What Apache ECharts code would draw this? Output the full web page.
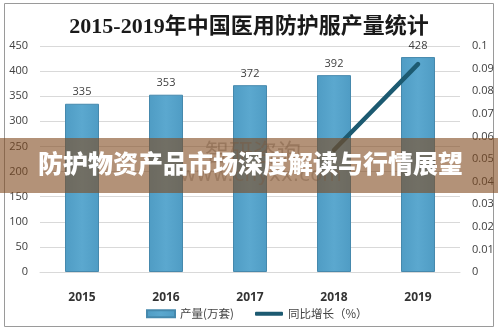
<!DOCTYPE html>
<html>
<head>
<meta charset="utf-8">
<script src="https://cdn.jsdelivr.net/npm/echarts@6/dist/echarts.min.js"></script>
<style>
  html, body { margin: 0; padding: 0; background: #ffffff; }
  #chart { width: 498px; height: 332px; }
</style>
</head>
<body>
<div id="chart"></div>
<script>
// Production of medical protective clothing, 2015-2019
const years = ['2015', '2016', '2017', '2018', '2019'];
const output = [335, 353, 372, 392, 428];          // 产量(万套)
const growth = [null, null, null, 0.054, 0.092];   // 同比增长
const leftTicks = { min: 0, max: 450, interval: 50 };
const rightTicks = { min: 0, max: 0.1, interval: 0.01 };

const cjk = "'Noto Sans CJK SC', 'Noto Sans', sans-serif";
const chart = echarts.init(document.getElementById('chart'));

chart.setOption({
  animation: false,
  backgroundColor: '#ffffff',
  title: {
    text: '2015-2019年中国医用防护服产量统计',
    left: 'center',
    top: 11,
    textStyle: {
      fontFamily: "'Liberation Serif', 'Noto Sans CJK SC', serif",
      fontSize: 22,
      fontWeight: 'bold',
      color: '#1a1a1a'
    }
  },
  legend: [
    {
      data: [{ name: '产量(万套)', icon: 'rect' }],
      left: 141, top: 303,
      itemWidth: 28, itemHeight: 7,
      textStyle: { fontFamily: cjk, fontSize: 11.5, color: '#444' }
    },
    {
      data: [{ name: '同比增长（%）', icon: 'roundRect' }],
      left: 250, top: 303,
      itemWidth: 28, itemHeight: 4,
      textStyle: { fontFamily: cjk, fontSize: 11.5, color: '#444' }
    }
  ],
  grid: { left: 40, right: 38, top: 46, bottom: 60 },
  xAxis: {
    type: 'category',
    data: years,
    axisLine: { show: true, lineStyle: { color: '#d9d9d9' } },
    axisTick: { show: false },
    axisLabel: {
      margin: 20, fontSize: 12, fontWeight: 'bold',
      color: '#333', fontFamily: "'Open Sans', sans-serif"
    }
  },
  yAxis: [
    {
      type: 'value',
      min: leftTicks.min, max: leftTicks.max, interval: leftTicks.interval,
      axisLine: { show: false }, axisTick: { show: false },
      splitLine: { lineStyle: { color: '#d9d9d9' } },
      axisLabel: { margin: 12, fontSize: 11, color: '#404040', fontFamily: "'Open Sans', sans-serif" }
    },
    {
      type: 'value',
      min: rightTicks.min, max: rightTicks.max, interval: rightTicks.interval,
      axisLine: { show: false }, axisTick: { show: false },
      splitLine: { show: false },
      axisLabel: {
        margin: 12, fontSize: 11, color: '#404040', fontFamily: "'Open Sans', sans-serif",
        formatter: v => String(Math.round(v * 100) / 100)
      }
    }
  ],
  series: [
    {
      name: '产量(万套)',
      type: 'bar',
      data: output,
      barWidth: 34,
      itemStyle: {
        color: new echarts.graphic.LinearGradient(0, 0, 1, 0, [
          { offset: 0, color: '#4f9cc4' },
          { offset: 0.5, color: '#5ba8cf' },
          { offset: 1, color: '#4f9cc4' }
        ]),
        borderColor: '#4689ad',
        borderWidth: 1
      },
      label: {
        show: true, position: 'top', distance: 6,
        fontSize: 11, color: '#404040', fontFamily: "'Open Sans', sans-serif"
      },
      z: 2
    },
    {
      name: '同比增长（%）',
      type: 'line',
      yAxisIndex: 1,
      data: growth,
      symbol: 'none',
      connectNulls: false,
      lineStyle: { color: '#1c5a71', width: 4.5, cap: 'round' },
      itemStyle: { color: '#1c5a71' },
      z: 3
    }
  ],
  graphic: [
    // outer frame
    {
      type: 'rect', z: 0, silent: true,
      shape: { x: 4.5, y: 3.5, width: 489, height: 323 },
      style: { fill: 'none', stroke: '#9a9a9a', lineWidth: 1 }
    },
    // watermark
    {
      type: 'text', z: 5, silent: true,
      x: 205, y: 140,
      style: {
        text: '智研咨询', fontFamily: cjk, fontSize: 24,
        fill: 'rgba(110,110,110,0.45)'
      }
    },
    {
      type: 'text', z: 5, silent: true,
      x: 180, y: 166,
      style: {
        text: 'www.chyxx.com', fontFamily: "'DejaVu Sans', sans-serif", fontSize: 20,
        fill: 'rgba(110,110,110,0.4)'
      }
    },
    // headline band
    {
      type: 'rect', z: 10, silent: true,
      shape: { x: 0, y: 138, width: 498, height: 55 },
      style: { fill: 'rgba(128,74,30,0.6)' }
    },
    {
      type: 'text', z: 11, silent: true,
      x: 38, y: 151,
      style: {
        text: '防护物资产品市场深度解读与行情展望',
        fontFamily: cjk, fontSize: 25, fontWeight: 900,
        fill: '#ffffff',
        shadowColor: 'rgba(0,0,0,0.35)', shadowBlur: 3, shadowOffsetX: 1, shadowOffsetY: 1
      }
    }
  ]
});
</script>
</body>
</html>
